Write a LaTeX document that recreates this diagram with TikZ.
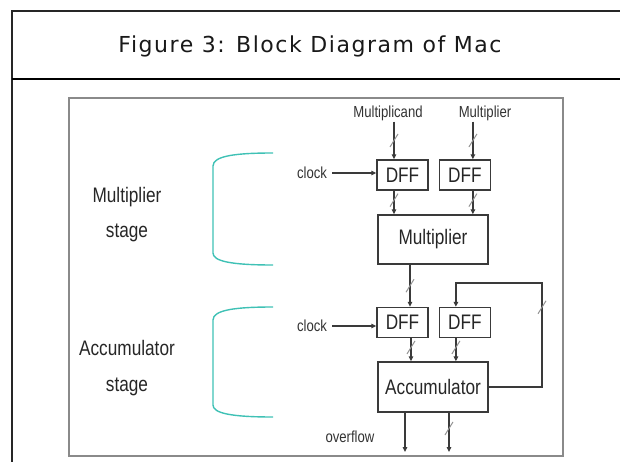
\documentclass[tikz,border=0pt]{standalone}
\usepackage{fontspec}
\setmainfont{Liberation Sans}
\newfontfamily\titlefont[LetterSpace=7]{DejaVu Sans}
\newfontfamily\diagfont[FakeStretch=0.82]{Liberation Sans}
\usetikzlibrary{arrows.meta,positioning,decorations.markings}
\definecolor{wiregray}{HTML}{3A3A3A}
\definecolor{cutgray}{HTML}{939393}
\definecolor{framegray}{HTML}{8A8A8A}
\definecolor{braceteal}{HTML}{3FC1B5}
\tikzset{
  blk/.style={rectangle,draw=wiregray,line width=1.4pt,inner sep=0pt,
    font=\diagfont\fontsize{21}{24}\selectfont,text=black!85},
  dff/.style={blk,minimum width=51pt,minimum height=30pt},
  unit/.style={blk,minimum width=110pt,minimum height=49pt},
  sig/.style={font=\diagfont\fontsize{16}{18}\selectfont,text=black!80,inner sep=1pt},
  stage/.style={font=\diagfont\fontsize{21}{35.5}\selectfont,align=center,text=black!85},
  wire/.style={-{Triangle[length=5pt,width=4.5pt]},line width=1.2pt,draw=wiregray},
  buscut/.style={-,draw=cutgray,line width=1pt},
  bus/.style={postaction={decorate,decoration={markings,
    mark=at position #1 with {\draw[buscut] (-6.5pt,4pt) -- (6.5pt,-4pt);}}}},
  bus/.default=0.45,
  stagebrace/.style={draw=braceteal,line width=1.4pt},
}

\begin{document}
\begin{tikzpicture}[x=1pt,y=-1pt]
  \useasboundingbox (0,0) rectangle (620,462);
  % page frame and caption
  \draw[line width=1.4pt,black!85] (621,11) -- (12,11) -- (12,463);
  \draw[line width=2.6pt] (12,79) -- (621,79);
  \node[font=\titlefont\fontsize{22}{26}\selectfont,text=black!90] (title) at (310,46)
    {Figure 3: Block Diagram of Mac};
  \draw[framegray,line width=1.6pt] (69,98) rectangle (563,456);

  % multiplier stage
  \node[sig] (mcand) at (388,113) {Multiplicand};
  \node[sig] (mplier) at (485,113) {Multiplier};
  \node[dff] (dffa) at (402.5,175) {DFF};
  \node[dff,right=10pt of dffa] (dffb) {DFF};
  \node[unit] (mult) at (433,239.5) {Multiplier};
  \node[sig] (clka) at (312,173) {clock};

  % accumulator stage
  \node[dff] (dffc) at (402.5,322.5) {DFF};
  \node[dff,right=10pt of dffc] (dffd) {DFF};
  \node[unit,minimum height=50pt] (acc) at (433,387) {Accumulator};
  \node[sig] (clkb) at (312,326) {clock};
  \node[sig] (ovf) at (350,437) {overflow};
  \coordinate (fb) at (542,283);
  \coordinate (outa) at (405,452);
  \coordinate (outb) at (449,452);

  \node[stage] (lblmul) at (127,214.5) {Multiplier\\stage};
  \node[stage] (lblacc) at (127,368) {Accumulator\\stage};

  \draw[wire,bus=0.5] ([xshift=-8.5pt]dffa.north |- mcand.south) -- ([xshift=-8.5pt]dffa.north);
  \draw[wire,bus=0.5] ([xshift=8pt]dffb.north |- mplier.south) -- ([xshift=8pt]dffb.north);
  \draw[wire] (clka.east) ++(4pt,0) -- (dffa.west |- clka.east);
  \draw[wire,bus=0.4] ([xshift=-8.5pt]dffa.south) -- ([xshift=-8.5pt]dffa.south |- mult.north);
  \draw[wire,bus=0.4] ([xshift=8pt]dffb.south) -- ([xshift=8pt]dffb.south |- mult.north);
  \draw[wire,bus=0.5] ([xshift=7.5pt]dffc.north |- mult.south) -- ([xshift=7.5pt]dffc.north);

  \draw[wire] (clkb.east) ++(4pt,0) -- (dffc.west |- clkb.east);
  \draw[wire,bus=0.4] ([xshift=8.5pt]dffc.south) -- ([xshift=8.5pt]dffc.south |- acc.north);
  \draw[wire,bus=0.4] ([xshift=-9pt]dffd.south) -- ([xshift=-9pt]dffd.south |- acc.north);
  \draw[wire,bus=133pt] (acc.east) -| (fb) -| ([xshift=-9pt]dffd.north);
  \draw[wire] (acc.south -| outa) -- (outa);
  \draw[wire,bus=0.4] (acc.south -| outb) -- (outb);

  % stage braces
  \draw[stagebrace] (273,153) .. controls (235,153) and (213,156) .. (213,166)
    -- (213,253) .. controls (213,261) and (230,265) .. (273,265);
  \draw[stagebrace] (273,307) .. controls (235,307) and (213,310) .. (213,320)
    -- (213,405) .. controls (213,413) and (230,417) .. (273,417);
\end{tikzpicture}
\end{document}
